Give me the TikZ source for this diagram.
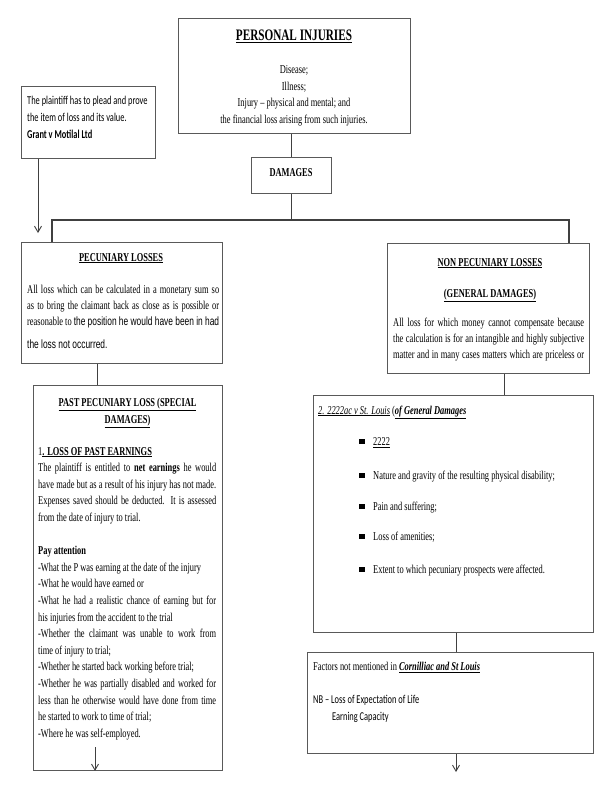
\documentclass[tikz,border=0pt]{standalone}
\usepackage{fontspec}
\setmainfont{Liberation Serif}[FakeStretch=0.7]
\newfontfamily\calfont{Carlito}[FakeStretch=0.7]
\newfontfamily\arialfont{Liberation Sans}[FakeStretch=0.7]
\usetikzlibrary{arrows.meta}
\setlength{\parindent}{0pt}
\setlength{\parskip}{0pt}
\begin{document}
\begin{tikzpicture}[x=1pt,y=-1pt,
 box/.style={draw=black!65, line width=0.9pt, inner sep=0pt, anchor=north west},
 conn/.style={draw=black!75, line width=0.9pt},
 arr/.style={conn, -{Straight Barb[length=6pt,width=7pt]}},
 txt/.style={inner sep=0pt, font=\fontsize{12}{16.6}\selectfont},
 bul/.style={fill=black, minimum size=5.5pt, inner sep=0pt},
]
\fill[white] (0,0) rectangle (606,800);
\useasboundingbox (0,0) rectangle (606,800);

% boxes
\node[box, minimum width=232pt, minimum height=115pt] (pi) at (178,18) {};
\node[box, minimum width=134pt, minimum height=72pt] (plead) at (21,86) {};
\node[box, minimum width=80pt, minimum height=36pt] (dam) at (251,157) {};
\node[box, minimum width=201pt, minimum height=121pt] (pec) at (21,242) {};
\node[box, minimum width=202pt, minimum height=130pt] (non) at (387,243) {};
\node[box, minimum width=189pt, minimum height=385pt] (past) at (33,385) {};
\node[box, minimum width=280pt, minimum height=237pt] (gen) at (313,395) {};
\node[box, minimum width=286pt, minimum height=101pt] (fac) at (307,652) {};

% coordinates
\coordinate (barL) at (52,220);
\coordinate (barR) at (569,220);
\coordinate (xa) at (38,0);
\coordinate (aend) at (38,233);
\coordinate (xp) at (97,0);
\coordinate (xn) at (504,0);
\coordinate (xg) at (456,0);
\coordinate (pastarr) at (95,747);
\coordinate (facend) at (456,772);

% connectors
\draw[conn] (pi.south -| dam.north) -- (dam.north);
\draw[conn] (dam.south) -- (dam.south |- barL);
\draw[conn, line width=1.2pt] (pec.north -| barL) -- (barL) -- (barR) -- (non.north -| barR);
\draw[arr] (plead.south -| xa) -- (aend);
\draw[conn] (pec.south -| xp) -- (past.north -| xp);
\draw[conn] (non.south -| xn) -- (gen.north -| xn);
\draw[conn] (gen.south -| xg) -- (fac.north -| xg);
\draw[arr] (pastarr) -- (past.south -| pastarr);
\draw[arr] (fac.south -| xg) -- (facend);

% top box
\node[txt, font=\fontsize{16}{18}\selectfont\bfseries, anchor=base] (pit) at (294,41) {\underline{PERSONAL INJURIES}};
\node[txt, align=center, anchor=base] (pib) at (294,123.3) {Disease;\\Illness;\\Injury – physical and mental; and\\the financial loss arising from such injuries.};

% plead box
\node[txt, font=\calfont\fontsize{12}{17}\selectfont, align=left, anchor=base west] (plt) at (27,138.5) {The plaintiff has to plead and prove\\the item of loss and its value.\\\textbf{Grant v Motilal Ltd}};

% damages
\node[txt, font=\bfseries\fontsize{12}{14}\selectfont, anchor=base] (damt) at (291,176) {DAMAGES};

% pecuniary
\node[txt, font=\bfseries\fontsize{12}{14}\selectfont, anchor=base] (pect) at (121,261) {\underline{PECUNIARY LOSSES}};
\node[txt, font=\fontsize{12}{16}\selectfont, text width=192pt, align=justify, anchor=base west] (pecb) at (27,293.5) {All loss which can be calculated in a monetary sum so\linebreak as to bring the claimant back as close as is possible or\linebreak reasonable to {\arialfont the position he would have been in had}\linebreak {\arialfont\rule{0pt}{20pt}the loss not occurred.}};

% non pecuniary
\node[txt, font=\bfseries\fontsize{12}{14}\selectfont, anchor=base] (nont) at (490,266) {\underline{NON PECUNIARY LOSSES}};
\node[txt, font=\bfseries\fontsize{12}{14}\selectfont, anchor=base] (nont2) at (490,297) {\underline{(GENERAL DAMAGES)}};
\node[txt, font=\fontsize{12}{16}\selectfont, text width=191pt, align=justify, anchor=base west] (nonb) at (393,326.5) {All loss for which money cannot compensate because\linebreak the calculation is for an intangible and highly subjective\linebreak matter and in many cases matters which are priceless or\linebreak};

% past pecuniary
\node[txt, font=\bfseries\fontsize{12}{17}\selectfont, align=center, anchor=base] (pastt) at (127.5,423) {\underline{PAST PECUNIARY LOSS (SPECIAL}\\\underline{DAMAGES)}};
\node[txt, text width=178pt, align=justify, anchor=base west] (pastb) at (38,455) {1\underline{\textbf{. LOSS OF PAST EARNINGS}}\par
The plaintiff is entitled to \textbf{net earnings} he would\linebreak have made but as a result of his injury has not made.\linebreak Expenses saved should be deducted. It is assessed\linebreak from the date of injury to trial.\par
\vskip16.6pt
\textbf{Pay attention}\par
-What the P was earning at the date of the injury\par
-What he would have earned or\par
-What he had a realistic chance of earning but for\linebreak his injuries from the accident to the trial\par
-Whether the claimant was unable to work from\linebreak time of injury to trial;\par
-Whether he started back working before trial;\par
-Whether he was partially disabled and worked for\linebreak less than he otherwise would have done from time\linebreak he started to work to time of trial;\par
-Where he was self-employed.};

% general damages box
\node[txt, anchor=base west] (gent) at (318,414) {\underline{\textit{2. 2222ac v St. Louis}} (\underline{\textbf{\textit{of General Damages}}}};
\node[bul] (b1) at (362,441.5) {};
\node[bul] (b2) at (362,475.5) {};
\node[bul] (b3) at (362,506.5) {};
\node[bul] (b4) at (362,536.5) {};
\node[bul] (b5) at (362,569.5) {};
\node[txt, anchor=base west] (g1) at (373,445.5) {\underline{2222}};
\node[txt, anchor=base west] (g2) at (373,479.5) {Nature and gravity of the resulting physical disability;};
\node[txt, anchor=base west] (g3) at (373,510.5) {Pain and suffering;};
\node[txt, anchor=base west] (g4) at (373,540.5) {Loss of amenities;};
\node[txt, anchor=base west] (g5) at (373,573.5) {Extent to which pecuniary prospects were affected.};

% factors box
\node[txt, anchor=base west] (f1) at (313,670.5) {Factors not mentioned in \underline{\textbf{\textit{Cornilliac and St Louis}}}};
\node[txt, font=\calfont\fontsize{12}{17}\selectfont, anchor=base west] (f2) at (313,703.5) {NB – Loss of Expectation of Life};
\node[txt, font=\calfont\fontsize{12}{17}\selectfont, anchor=base west] (f3) at (332,720.5) {Earning Capacity};
\end{tikzpicture}
\end{document}
